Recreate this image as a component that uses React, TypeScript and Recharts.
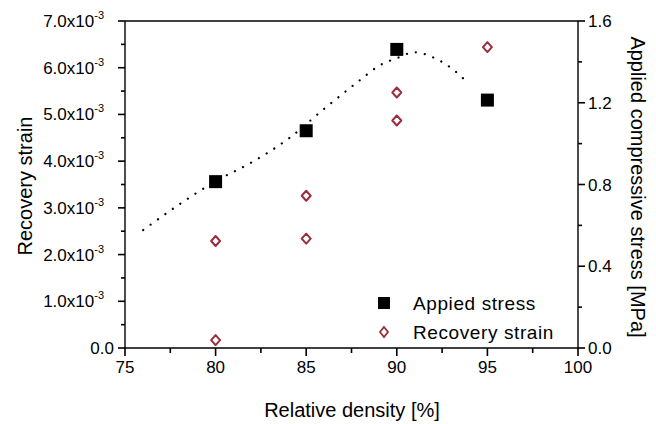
import React from 'react';
import {
  ComposedChart,
  XAxis,
  YAxis,
  Scatter,
  Line,
  ReferenceLine,
} from 'recharts';

// relative density [%]
const densityTicks = [75, 77.5, 80, 82.5, 85, 87.5, 90, 92.5, 95, 97.5, 100];
const strainTicks = [0, 0.0005, 0.001, 0.0015, 0.002, 0.0025, 0.003, 0.0035, 0.004, 0.0045, 0.005, 0.0055, 0.006, 0.0065, 0.007];
const stressTicks = [0, 0.2, 0.4, 0.6, 0.8, 1.0, 1.2, 1.4, 1.6];

const stressDensity = [80, 85, 90, 95];
const stressValues = [0.814, 1.063, 1.461, 1.213];

const strainDensity = [80, 80, 85, 85, 90, 90, 95];
const strainValues = [0.00017, 0.00229, 0.00234, 0.00326, 0.00487, 0.00547, 0.00644];

// dotted trend line
const fitDensity = [76, 78, 80, 82, 84, 86, 88, 89, 90, 91, 92, 93, 94];
const fitStress = [0.577, 0.703, 0.816, 0.909, 1.023, 1.171, 1.313, 1.38, 1.418, 1.447, 1.422, 1.37, 1.29];

const stressData = stressDensity.map((x, i) => ({ x, stress: stressValues[i] }));
const strainData = strainDensity.map((x, i) => ({ x, strain: strainValues[i] }));
const fitData = fitDensity.map((x, i) => ({ x, fit: fitStress[i] }));

const FONT = '"Liberation Sans", Arial, sans-serif';
const TICK_FS = 17;

const isMajor = (v: number, step: number) => Math.abs(v / step - Math.round(v / step)) < 1e-6;

const renderXTick = (props: any) => {
  const { x, y, payload } = props;
  const major = isMajor(payload.value, 5);
  return (
    <g>
      <rect x={x - 0.8} y={y - 8} width={1.6} height={major ? 8 : 5} fill="#000" />
      {major && (
        <text x={x} y={y + 17} textAnchor="middle" fontSize={TICK_FS} fontFamily={FONT} fill="#000">
          {payload.value}
        </text>
      )}
    </g>
  );
};

const renderLeftTick = (props: any) => {
  const { x, y, payload } = props;
  const v = payload.value;
  const major = isMajor(v, 0.001);
  const len = major ? 7 : 4;
  return (
    <g>
      <rect x={x + 8 - len} y={y - 0.8} width={len} height={1.6} fill="#000" />
      {major && v === 0 && (
        <text x={x - 3} y={y + 6} textAnchor="end" fontSize={TICK_FS} fontFamily={FONT} fill="#000">0.0</text>
      )}
      {major && v !== 0 && (
        <text x={x - 13} y={y + 6} textAnchor="end" fontSize={TICK_FS} fontFamily={FONT} fill="#000">
          {(v * 1000).toFixed(1)}x10
          <tspan fontSize={11} dy={-8}>-3</tspan>
        </text>
      )}
    </g>
  );
};

const renderRightTick = (props: any) => {
  const { x, y, payload } = props;
  const major = isMajor(payload.value, 0.4);
  const len = major ? 7 : 4;
  return (
    <g>
      <rect x={x - 8} y={y - 0.8} width={len} height={1.6} fill="#000" />
      {major && (
        <text x={x + 2} y={y + 6} textAnchor="start" fontSize={TICK_FS} fontFamily={FONT} fill="#000">
          {payload.value.toFixed(1)}
        </text>
      )}
    </g>
  );
};

const SquareShape = (props: any) => {
  const { cx, cy } = props;
  return <rect x={cx - 6.5} y={cy - 6.5} width={13} height={13} fill="#000" />;
};

const DiamondShape = (props: any) => {
  const { cx, cy } = props;
  return (
    <path
      d={`M${cx},${cy - 5} L${cx + 4.5},${cy} L${cx},${cy + 5} L${cx - 4.5},${cy} Z`}
      fill="none"
      stroke="#9a2e3c"
      strokeWidth={2}
      strokeLinejoin="round"
    />
  );
};

const axisStroke = { stroke: '#000', strokeWidth: 1.4 };

const App = () => {
  return (
    <div style={{ position: 'absolute', left: 0, top: 0, width: 656, height: 424, background: '#fff' }}>
      <ComposedChart width={656} height={424} margin={{ top: 21, right: 0, bottom: 0, left: 0 }}>
        <XAxis
          dataKey="x"
          type="number"
          domain={[75, 100]}
          ticks={densityTicks}
          interval={0}
          height={76}
          tickSize={8}
          tickMargin={0}
          tickLine={false}
          tick={renderXTick}
          axisLine={axisStroke}
        />
        <YAxis
          yAxisId="left"
          type="number"
          domain={[0, 0.007]}
          ticks={strainTicks}
          interval={0}
          width={125}
          tickSize={8}
          tickMargin={0}
          tickLine={false}
          tick={renderLeftTick}
          axisLine={axisStroke}
        />
        <YAxis
          yAxisId="right"
          orientation="right"
          type="number"
          domain={[0, 1.6]}
          ticks={stressTicks}
          interval={0}
          width={78}
          tickSize={8}
          tickMargin={0}
          tickLine={false}
          tick={renderRightTick}
          axisLine={axisStroke}
        />
        <ReferenceLine yAxisId="left" y={0.007} stroke="#000" strokeWidth={1.4} />
        <Line
          yAxisId="right"
          data={fitData}
          dataKey="fit"
          type="monotone"
          stroke="#000"
          strokeWidth={2.2}
          strokeDasharray="0.1 9"
          strokeLinecap="round"
          dot={false}
          activeDot={false}
          isAnimationActive={false}
        />
        <Scatter
          yAxisId="left"
          data={strainData}
          dataKey="strain"
          shape={<DiamondShape />}
          isAnimationActive={false}
        />
        <Scatter
          yAxisId="right"
          data={stressData}
          dataKey="stress"
          shape={<SquareShape />}
          isAnimationActive={false}
        />
        {/* legend */}
        <g>
          <rect x={378} y={297} width={12} height={12} fill="#000" />
          <text x={413} y={310} fontSize={19} letterSpacing={0.6} fontFamily={FONT} fill="#000">Appied stress</text>
          <path d="M384,327 L388,332 L384,337 L380,332 Z" fill="none" stroke="#9a2e3c" strokeWidth={1.8} />
          <text x={413} y={339} fontSize={19} letterSpacing={0.6} fontFamily={FONT} fill="#000">Recovery strain</text>
        </g>
        {/* axis titles */}
        <text x={32} y={186} transform="rotate(-90 32 186)" textAnchor="middle" fontSize={20} fontFamily={FONT} fill="#000">
          Recovery strain
        </text>
        <text x={631} y={187} transform="rotate(90 631 187)" textAnchor="middle" fontSize={20} fontFamily={FONT} fill="#000">
          Applied compressive stress [MPa]
        </text>
        <text x={352} y={417} textAnchor="middle" fontSize={20} fontFamily={FONT} fill="#000">
          Relative density [%]
        </text>
      </ComposedChart>
    </div>
  );
};

export default App;
